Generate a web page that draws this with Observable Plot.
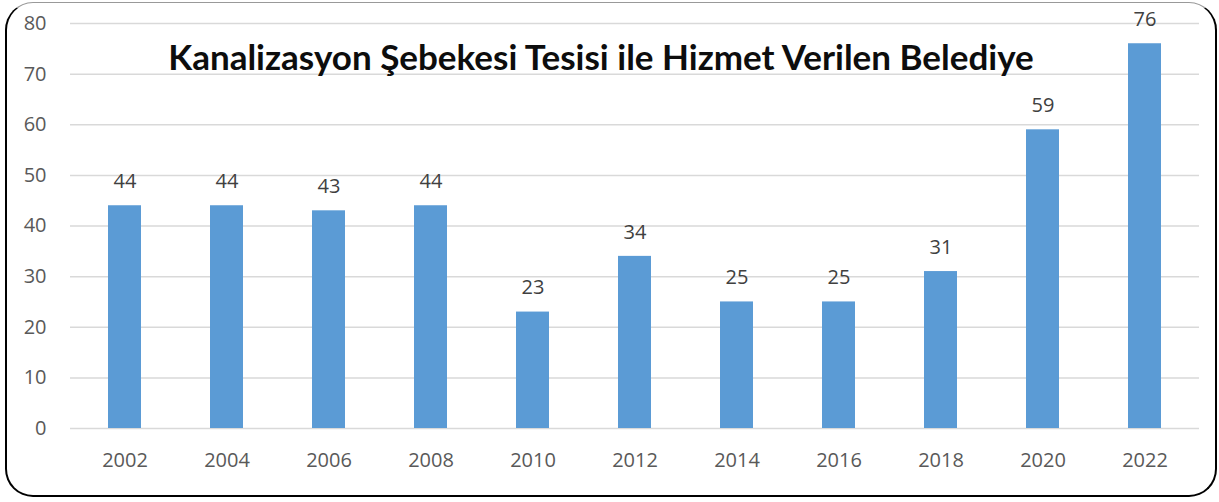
<!DOCTYPE html>
<html><head><meta charset="utf-8">
<script src="https://cdn.jsdelivr.net/npm/d3@7"></script>
<script src="https://cdn.jsdelivr.net/npm/@observablehq/plot@0.6"></script>
<style>
html,body{margin:0;padding:0;background:#fff;}
#wrap{position:relative;width:1219px;height:502px;overflow:hidden;}
#box{position:absolute;left:5px;top:2px;width:1208px;height:492px;border:2px solid #000;border-top:1px solid #999;border-radius:28px;pointer-events:none;}
#chart{position:absolute;left:0;top:0;}
</style></head>
<body>
<div id="wrap"><div id="chart"></div><div id="box"></div></div>
<script>
const years = ["2002","2004","2006","2008","2010","2012","2014","2016","2018","2020","2022"];
const values = [44,44,43,44,23,34,25,25,31,59,76];
const title = "Kanalizasyon Şebekesi Tesisi ile Hizmet Verilen Belediye";
const yTicks = [0,10,20,30,40,50,60,70,80];

const data = years.map((y,i)=>({year:y, value:values[i]}));

const chart = Plot.plot({
  width: 1219,
  height: 502,
  marginLeft: 70,
  marginRight: 20,
  marginTop: 23,
  marginBottom: 74,
  style: {fontFamily: "'Open Sans', sans-serif", fontSize: "20px", color: "#595959", background: "transparent"},
  x: {domain: years, paddingInner: 0.68, paddingOuter: 0.34, label: null},
  y: {domain: [0,80], label: null},
  marks: [
    Plot.gridY(yTicks, {stroke: "#d9d9d9", strokeOpacity: 1, strokeWidth: 1.5}),
    Plot.axisY(yTicks, {tickSize: 0, tickPadding: 24, fontSize: 20, fill: "#595959", label: null}),
    Plot.axisX({tickSize: 0, tickPadding: 24, fontSize: 20, fill: "#595959", label: null}),
    Plot.barY(data, {x: "year", y: "value", fill: "#5b9bd5"}),
    Plot.text(data, {x: "year", y: "value", text: d => String(d.value), dy: -24, fontSize: 20, fill: "#404040"}),
    Plot.text([title], {frameAnchor: "top", dx: -34, dy: 35, lineAnchor: "middle", fontSize: 35, fontWeight: "bold", fontFamily: "Lato, sans-serif", fill: "#0d0d0d"})
  ]
});
document.getElementById("chart").appendChild(chart);
</script>
</body></html>
